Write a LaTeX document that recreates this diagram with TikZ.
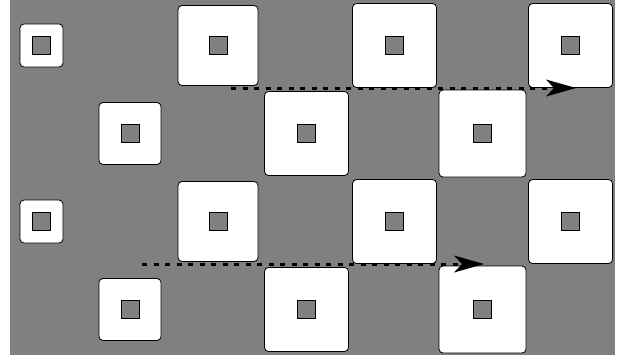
\documentclass[tikz,border=0pt]{standalone}
\usetikzlibrary{arrows.meta}
\tikzset{
  tile/.style={draw,fill=white,rounded corners=4pt,line width=0.8pt,inner sep=0pt,
    path picture={\draw[fill=gray,line width=0.8pt,sharp corners]
      ([shift={(-9pt,-9pt)}]path picture bounding box.center) rectangle ++(18pt,18pt);}},
  shift arrow/.style={line width=3pt,dash pattern=on 5pt off 6.5pt,
    -{Stealth[length=30pt,width=17pt,inset=8pt,line width=0pt]}}
}
\begin{document}
\begin{tikzpicture}[x=1pt,y=-1pt]
\useasboundingbox (0,0) rectangle (618,357);
\fill[gray] (10,0) rectangle (615,355);
% rows 1 and 3
\node[tile,minimum size=43pt] (a1) at (41.5,45.5) {};
\node[tile,minimum size=80pt] (a2) at (218,45.5) {};
\node[tile,minimum size=84pt] (a3) at (394.5,45.5) {};
\node[tile,minimum size=84pt] (a4) at (570.5,45.5) {};
\node[tile,minimum size=43pt] (c1) at (41.5,221.5) {};
\node[tile,minimum size=80pt] (c2) at (218,221.5) {};
\node[tile,minimum size=84pt] (c3) at (394.5,221.5) {};
\node[tile,minimum size=84pt] (c4) at (570.5,221.5) {};
% rows 2 and 4
\node[tile,minimum size=62pt] (b1) at (130,133.5) {};
\node[tile,minimum size=84pt] (b2) at (306.5,133.5) {};
\node[tile,minimum size=87pt] (b3) at (482.5,133.5) {};
\node[tile,minimum size=62pt] (d1) at (130,309.5) {};
\node[tile,minimum size=84pt] (d2) at (306.5,309.5) {};
\node[tile,minimum size=87pt] (d3) at (482.5,309.5) {};
% shifts
\coordinate (s1) at (231,88);
\coordinate (e1) at (576,88);
\coordinate (s2) at (142,264);
\coordinate (e2) at (484,264);
\draw[shift arrow] (s1)--(e1);
\draw[shift arrow] (s2)--(e2);
\end{tikzpicture}
\end{document}
